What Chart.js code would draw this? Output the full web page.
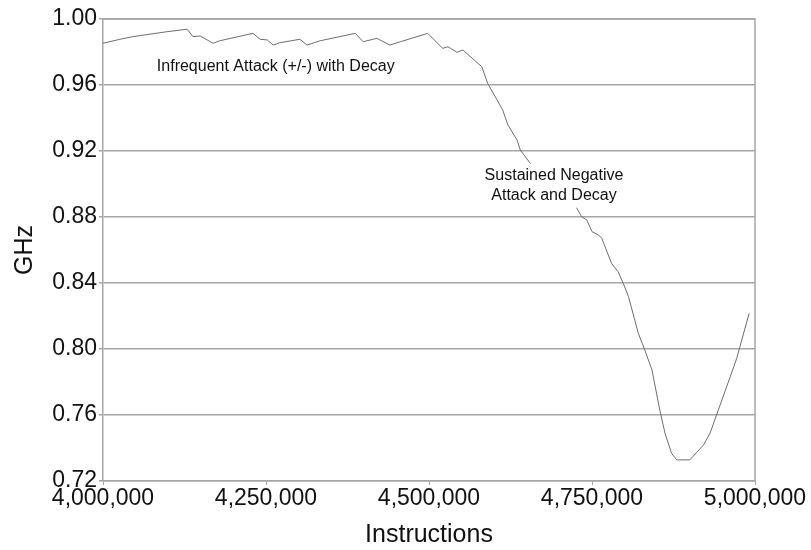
<!DOCTYPE html>
<html>
<head>
<meta charset="utf-8">
<script src="https://cdn.jsdelivr.net/npm/chart.js@4.4.1/dist/chart.umd.min.js"></script>
<style>
  html, body { margin: 0; padding: 0; background: #fff; }
  #wrap { width: 811px; height: 550px; position: relative; }
</style>
</head>
<body>
<div id="wrap"><canvas id="c" width="811" height="550"></canvas></div>
<script>
// Clock frequency trace over an instruction window
const instructions = [
  4000000, 4026000, 4046000, 4098000, 4129000, 4138000, 4149000, 4169000, 4179000, 4230000,
  4241000, 4252000, 4261000, 4271000, 4302000, 4313000, 4333000, 4387000, 4399000, 4420000,
  4440000, 4456000, 4498000, 4521000, 4529000, 4543000, 4552000, 4581000, 4590000, 4613000,
  4621000, 4635000, 4640000, 4655000, 4689000, 4724000, 4734000, 4742000, 4750000, 4760000,
  4765000, 4780000, 4790000, 4798000, 4806000, 4821000, 4831000, 4842000, 4854000, 4862000,
  4872000, 4880000, 4900000, 4921000, 4931000, 4941000, 4962000, 4972000, 4991000
];
const ghz = [
  0.9853, 0.9877, 0.9893, 0.9923, 0.9938, 0.9893, 0.9897, 0.9853, 0.9868, 0.9913,
  0.9877, 0.9873, 0.9842, 0.9856, 0.9877, 0.9842, 0.9868, 0.9913, 0.9862, 0.9883,
  0.9842, 0.9862, 0.9913, 0.9822, 0.9832, 0.9798, 0.9812, 0.9711, 0.9610, 0.9449,
  0.9358, 0.9267, 0.9206, 0.9127, 0.9000, 0.8873, 0.8802, 0.8782, 0.8711, 0.8691,
  0.8671, 0.8519, 0.8469, 0.8398, 0.8317, 0.8095, 0.7994, 0.7873, 0.7630, 0.7489,
  0.7368, 0.7328, 0.7328, 0.7418, 0.7489, 0.7600, 0.7832, 0.7944, 0.8216
];
const xTicks = [4000000, 4250000, 4500000, 4750000, 5000000];
const yTicks = [0.72, 0.76, 0.80, 0.84, 0.88, 0.92, 0.96, 1.00];

// Callout texts anchored in data coordinates
const notes = [
  { lines: ['Infrequent Attack (+/-) with Decay'], x: 4265000, y: 0.971, box: false },
  { lines: ['Sustained Negative', 'Attack and Decay'], x: 4691700, y: 0.905, box: true }
];

const FONT = 'Liberation Sans, Arial, Helvetica, sans-serif';

const frame = {
  id: 'frame',
  afterDatasetsDraw(chart) {
    const { ctx, chartArea: a, scales } = chart;
    ctx.save();
    // outer plot border (top and right)
    ctx.strokeStyle = '#a6a6a6';
    ctx.lineWidth = 1.5;
    ctx.beginPath();
    ctx.moveTo(a.left, a.top);
    ctx.lineTo(a.right, a.top);
    ctx.lineTo(a.right, a.bottom);
    ctx.stroke();
    // callouts
    ctx.font = '16px ' + FONT;
    ctx.fillStyle = '#111';
    ctx.textAlign = 'center';
    ctx.textBaseline = 'middle';
    const lh = 20;
    notes.forEach(n => {
      const cx = scales.x.getPixelForValue(n.x);
      const cy = scales.y.getPixelForValue(n.y);
      if (n.box) {
        let w = 0;
        n.lines.forEach(t => { w = Math.max(w, ctx.measureText(t).width); });
        ctx.fillStyle = '#fff';
        ctx.fillRect(cx - w / 2 - 4, cy - lh / 2 - 2, w + 8, lh * n.lines.length + 4);
        ctx.fillStyle = '#111';
      }
      n.lines.forEach((t, i) => ctx.fillText(t, cx, cy + i * lh));
    });
    ctx.restore();
  }
};

new Chart(document.getElementById('c'), {
  type: 'line',
  data: {
    datasets: [{
      data: instructions.map((x, i) => ({ x, y: ghz[i] })),
      borderColor: '#6e6e6e',
      borderWidth: 1,
      pointRadius: 0,
      tension: 0,
      fill: false
    }]
  },
  options: {
    responsive: false,
    animation: false,
    devicePixelRatio: 1,
    layout: { padding: { top: 19, right: 56, left: 0, bottom: 0 } },
    plugins: { legend: { display: false }, tooltip: { enabled: false } },
    scales: {
      x: {
        type: 'linear',
        min: 4000000,
        max: 5000000,
        afterBuildTicks: s => { s.ticks = xTicks.map(v => ({ value: v })); },
        afterFit: s => { s.height = 69; },
        ticks: {
          color: '#111',
          font: { family: FONT, size: 23 },
          padding: 0,
          maxRotation: 0,
          autoSkip: false,
          callback: v => Number(v).toLocaleString('en-US')
        },
        grid: { drawOnChartArea: false, color: '#a6a6a6', tickLength: 4 },
        border: { color: '#a6a6a6', width: 1.5 },
        title: {
          display: true,
          text: 'Instructions',
          color: '#111',
          font: { family: FONT, size: 25 },
          padding: { top: 2, bottom: 0 }
        }
      },
      y: {
        type: 'linear',
        min: 0.72,
        max: 1.00,
        afterBuildTicks: s => { s.ticks = yTicks.map(v => ({ value: v })); },
        afterFit: s => { s.width = 103; },
        ticks: {
          color: '#111',
          font: { family: FONT, size: 23 },
          padding: 2,
          callback: v => Number(v).toFixed(2)
        },
        grid: { color: '#a6a6a6', lineWidth: 1.5, tickLength: 4 },
        border: { color: '#a6a6a6', width: 1.5 },
        title: {
          display: true,
          text: 'GHz',
          color: '#111',
          font: { family: FONT, size: 25 },
          padding: { top: 10, bottom: 0 }
        }
      }
    }
  },
  plugins: [frame]
});
</script>
</body>
</html>
